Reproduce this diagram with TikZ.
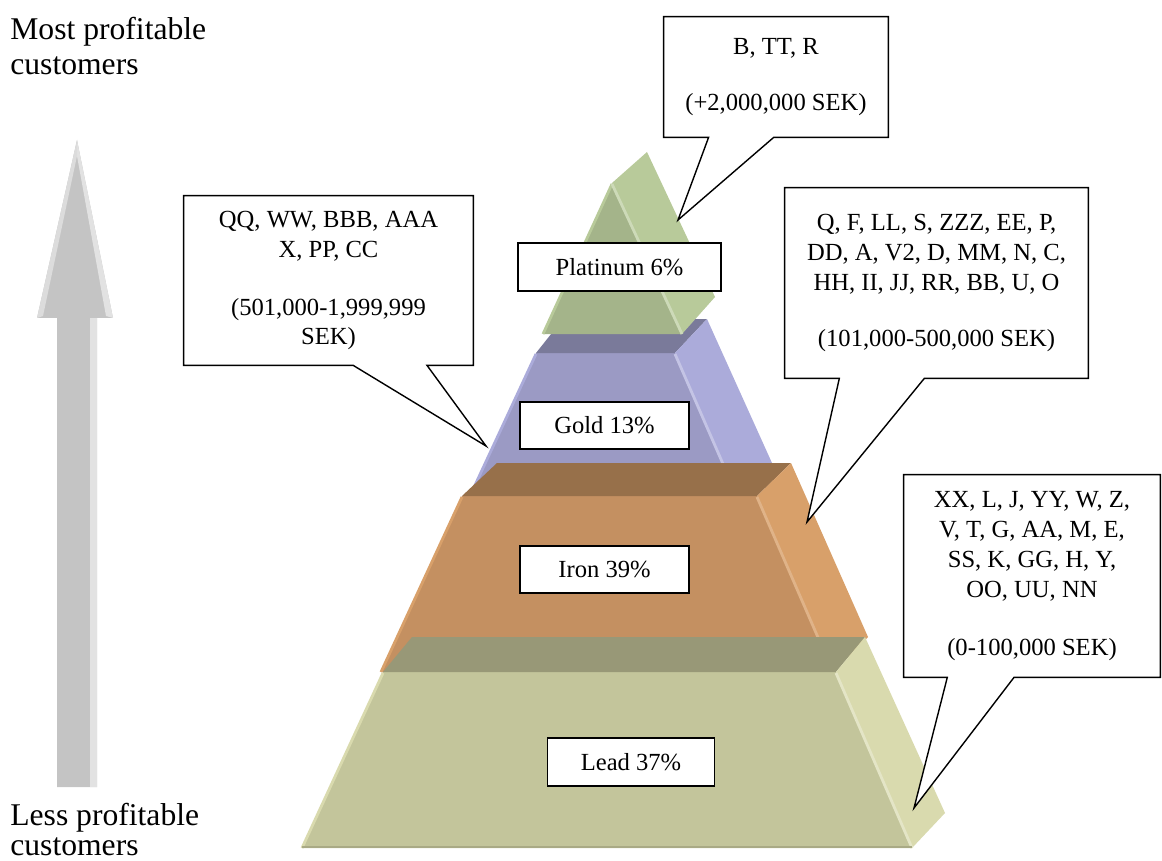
\documentclass[tikz,border=0pt]{standalone}
\usepackage{fontspec}
\setmainfont{Liberation Serif}
\usetikzlibrary{calc}

\definecolor{arrowgray}{HTML}{C4C4C4}
\definecolor{arrowlight}{HTML}{E2E2E2}
\definecolor{platfront}{HTML}{A4B48A}
\definecolor{platside}{HTML}{B8CA9A}
\definecolor{goldfront}{HTML}{9B9AC4}
\definecolor{goldtop}{HTML}{7A7A9A}
\definecolor{goldside}{HTML}{ABABDA}
\definecolor{ironfront}{HTML}{C49061}
\definecolor{irontop}{HTML}{97704A}
\definecolor{ironside}{HTML}{D8A06A}
\definecolor{leadfront}{HTML}{C3C59B}
\definecolor{leadtop}{HTML}{989877}
\definecolor{leadside}{HTML}{D9DAAE}

\pgfdeclarelayer{pyr}
\pgfdeclarelayer{bub}
\pgfsetlayers{pyr,bub,main}

\begin{document}
\begin{tikzpicture}[
    x=0.02cm, y=-0.02cm,
    font=\fontsize{14}{17}\selectfont,
    tier/.style={
        draw,
        fill=white,
        line width=1pt,
        minimum height=0.95cm
    },
    bubble/.style={
        align=center,
        inner sep=0pt
    },
    bubbleline/.style={draw=black, fill=white, line width=0.8pt, line join=miter},
    sidetext/.style={align=left, anchor=north west, inner sep=0pt},
    hilite/.style={line width=1.6pt}
]

\useasboundingbox (0,0) rectangle (1162,861);

\begin{pgfonlayer}{pyr}
% Profit arrow
\fill[arrowgray] (57,787) -- (57,318) -- (37,318) -- (77,140) -- (113,318) -- (97,318) -- (97,787) -- cycle;
\fill[arrowlight] (90,318) -- (97,318) -- (97,787) -- (90,787) -- cycle;
\fill[arrowlight] (77,140) -- (113,318) -- (106,316) -- (77,156) -- cycle;
\fill[arrowlight!80!arrowgray] (77,140) -- (37,318) -- (43,316) -- (77,156) -- cycle;

% Gold tier
\fill[goldfront] (536,353) -- (675,353) -- (737,496) -- (470,496) -- cycle;
\fill[goldtop] (536,353) -- (563,319) -- (707,319) -- (675,353) -- cycle;
\fill[goldside] (675,353) -- (707,319) -- (772,463) -- (737,496) -- cycle;
\draw[hilite, goldside] (536,354) -- (470,496);
\draw[hilite, goldside!70!white] (675,354) -- (737,496);

% Platinum tier
\fill[platfront] (612,183) -- (682,334) -- (543,334) -- cycle;
\fill[platside] (612,183) -- (647,152) -- (715,297) -- (682,334) -- cycle;
\draw[hilite, platside] (612,184) -- (543,334);
\draw[hilite, platside!70!white] (612,184) -- (682,334);

% Iron tier
\fill[ironfront] (462,496) -- (757,496) -- (833,672) -- (381,672) -- cycle;
\fill[irontop] (462,496) -- (497,463) -- (791,463) -- (757,496) -- cycle;
\fill[ironside] (757,496) -- (791,463) -- (868,637) -- (833,672) -- cycle;
\draw[hilite, ironside] (462,497) -- (381,672);
\draw[hilite, ironside!80!white] (757,497) -- (833,672);

% Lead tier
\fill[leadfront] (383,672) -- (836,672) -- (912,848) -- (302,848) -- cycle;
\fill[leadtop] (383,672) -- (412,637) -- (865,637) -- (836,672) -- cycle;
\fill[leadside] (836,672) -- (865,637) -- (945,813) -- (912,848) -- cycle;
\draw[hilite, leadside] (383,673) -- (302,848);
\draw[hilite, leadside!70!white] (836,673) -- (912,848);
\draw[hilite, leadtop!60!leadfront] (302,847) -- (912,847);
\end{pgfonlayer}

% Side labels
\node[sidetext, font=\fontsize{18}{19.8}\selectfont] (mosttxt) at (10,17) {Most profitable\\customers};
\node[sidetext, font=\fontsize{18}{17}\selectfont] (lesstxt) at (10,803) {Less profitable\\customers};

% Tier labels
\node[tier, minimum width=4.06cm] (platlbl) at (619.5,267) {Platinum 6\%};
\node[tier, minimum width=3.38cm] (goldlbl) at (604.5,425.5) {Gold 13\%};
\node[tier, minimum width=3.38cm] (ironlbl) at (604.5,569.5) {Iron 39\%};
\node[tier, minimum width=3.34cm] (leadlbl) at (631,762) {Lead 37\%};

% Customer callouts
\node[bubble, minimum width=4.48cm, minimum height=2.4cm] (platinfo) at (776,77)
{B, TT, R\\[15pt](+2,000,000 SEK)};
\node[bubble, minimum width=5.78cm, minimum height=3.38cm] (goldinfo) at (328.5,280.5)
{QQ, WW, BBB, AAA\\X, PP, CC\\[16pt](501,000-1,999,999\\SEK)};
\node[bubble, minimum width=6.06cm, minimum height=3.8cm] (ironinfo) at (936.5,283)
{Q, F, LL, S, ZZZ, EE, P,\\DD, A, V2, D, MM, N, C,\\HH, II, JJ, RR, BB, U, O\\[15pt](101,000-500,000 SEK)};
\node[bubble, minimum width=5.12cm, minimum height=4.04cm] (leadinfo) at (1032,576)
{XX, L, J, YY, W, Z,\\V, T, G, AA, M, E,\\SS, K, GG, H, Y,\\OO, UU, NN\\[16pt](0-100,000 SEK)};

% Callout tips
\coordinate (platpt) at (678,220);
\coordinate (goldpt) at (486,446);
\coordinate (ironpt) at (807,522);
\coordinate (leadpt) at (914,808);

\begin{pgfonlayer}{bub}
\draw[bubbleline] (platinfo.north west) -- (platinfo.north east) -- (platinfo.south east)
    -- ($(platinfo.south west)!0.49!(platinfo.south east)$) -- (platpt)
    -- ($(platinfo.south west)!0.2!(platinfo.south east)$) -- (platinfo.south west) -- cycle;
\draw[bubbleline] (goldinfo.north west) -- (goldinfo.north east) -- (goldinfo.south east)
    -- ($(goldinfo.south west)!0.84!(goldinfo.south east)$) -- (goldpt)
    -- ($(goldinfo.south west)!0.585!(goldinfo.south east)$) -- (goldinfo.south west) -- cycle;
\draw[bubbleline] (ironinfo.north west) -- (ironinfo.north east) -- (ironinfo.south east)
    -- ($(ironinfo.south west)!0.46!(ironinfo.south east)$) -- (ironpt)
    -- ($(ironinfo.south west)!0.18!(ironinfo.south east)$) -- (ironinfo.south west) -- cycle;
\draw[bubbleline] (leadinfo.north west) -- (leadinfo.north east) -- (leadinfo.south east)
    -- ($(leadinfo.south west)!0.43!(leadinfo.south east)$) -- (leadpt)
    -- ($(leadinfo.south west)!0.17!(leadinfo.south east)$) -- (leadinfo.south west) -- cycle;
\end{pgfonlayer}

\end{tikzpicture}
\end{document}
